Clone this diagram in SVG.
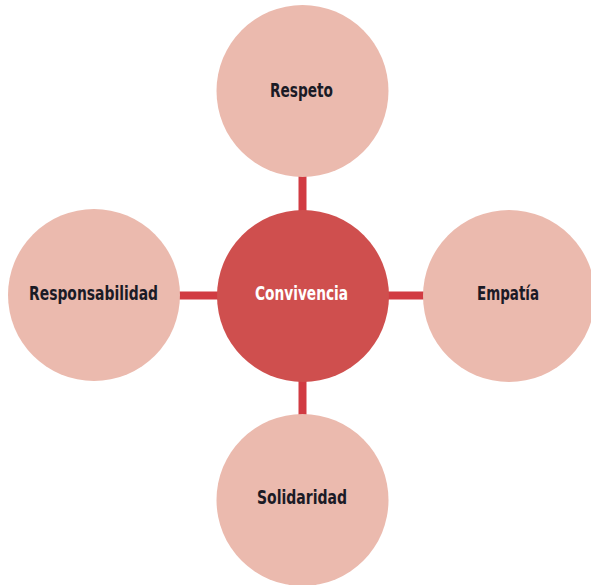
<svg xmlns="http://www.w3.org/2000/svg" width="591" height="585" viewBox="0 0 591 585">
  <style>
    .link { stroke: #d13b42; stroke-width: 8; fill: none; }
    .outer { fill: #ebbaae; }
    .hub { fill: #cf4f4e; }
    .label { font-family: "DejaVu Sans Condensed", "DejaVu Sans", "Liberation Sans", sans-serif; font-stretch: condensed; font-weight: bold; font-size: 19.5px; text-anchor: middle; fill: #1b1b26; }
    .hub-label { fill: #ffffff; }
  </style>
  <rect width="591" height="585" fill="#ffffff"/>
  <g id="connectors">
    <line class="link" x1="302.5" y1="170" x2="302.5" y2="220"/>
    <line class="link" x1="302.5" y1="375" x2="302.5" y2="420"/>
    <line class="link" x1="175" y1="295.5" x2="225" y2="295.5"/>
    <line class="link" x1="380" y1="295.5" x2="430" y2="295.5"/>
  </g>
  <g id="respeto">
    <circle class="outer" cx="302.5" cy="91" r="86"/>
    <text class="label" x="301.5" y="97" textLength="63" lengthAdjust="spacingAndGlyphs">Respeto</text>
  </g>
  <g id="responsabilidad">
    <circle class="outer" cx="94" cy="295" r="86"/>
    <text class="label" x="93.5" y="299.5" textLength="129" lengthAdjust="spacingAndGlyphs">Responsabilidad</text>
  </g>
  <g id="empatia">
    <circle class="outer" cx="509" cy="296" r="86"/>
    <text class="label" x="508" y="299.5" textLength="62" lengthAdjust="spacingAndGlyphs">Empatía</text>
  </g>
  <g id="solidaridad">
    <circle class="outer" cx="302.5" cy="500" r="86"/>
    <text class="label" x="302" y="503.5" textLength="90" lengthAdjust="spacingAndGlyphs">Solidaridad</text>
  </g>
  <g id="convivencia">
    <circle class="hub" cx="303" cy="296" r="86"/>
    <text class="label hub-label" x="301.5" y="299.5" textLength="93" lengthAdjust="spacingAndGlyphs">Convivencia</text>
  </g>
</svg>
